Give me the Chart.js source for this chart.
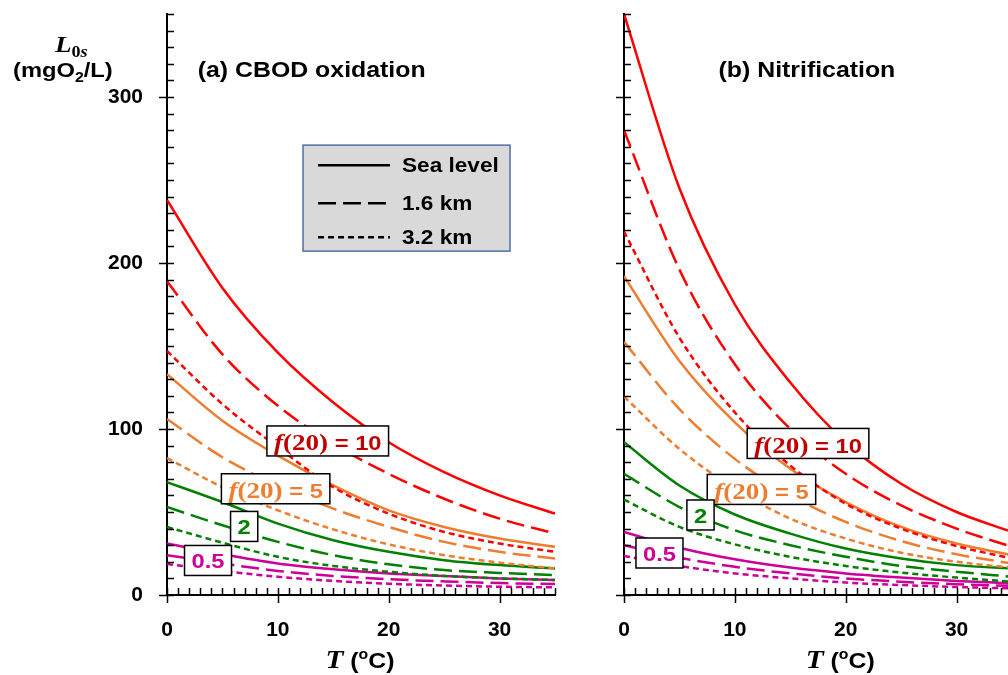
<!DOCTYPE html>
<html>
<head>
<meta charset="utf-8">
<title>Maximum load L0s versus temperature</title>
<script src="https://cdn.jsdelivr.net/npm/chart.js@4.4.1/dist/chart.umd.min.js"></script>
<style>
    html, body { margin: 0; padding: 0; background: #fff; overflow: hidden; }
    #figure { position: relative; width: 1008px; height: 675px; overflow: hidden; }
    #figure canvas { position: absolute; top: 0; }
    #cbodChart { left: 0; }
    #nitrChart { left: 560px; }
</style>
</head>
<body>
<div id="figure">
    <canvas id="cbodChart" width="560" height="675"></canvas>
    <canvas id="nitrChart" width="460" height="675"></canvas>
</div>
<script>
// temperature (deg C) and tick marks
const temps = [0, 5, 10, 15, 20, 25, 30, 35];
const tempTicks = [0, 10, 20, 30];
const loadTicks = [0, 100, 200, 300];
const tempMax = 35;
const loadMax = 350;
const tempMinorStep = 1;
const loadMinorStep = 10;

// (a) CBOD oxidation, L0s in mgO2/L : f(20) = 10, 5, 2, 0.5 at sea level, 1.6 km, 3.2 km
const cbodF10Sea = [238, 185, 146, 116, 92, 74, 60, 49];
const cbodF10Mid = [189, 145, 114, 91, 73, 58, 46, 37];
const cbodF10High = [147, 115, 89, 65, 49, 38, 31, 26];
const cbodF5Sea = [133, 105, 84, 66, 51, 41, 34, 29];
const cbodF5Mid = [106, 83, 66, 52, 41, 32, 26, 22];
const cbodF5High = [82.5, 65, 51, 39.5, 30.5, 24, 19.5, 16];
const cbodF2Sea = [68, 56, 43, 33, 26, 21, 18, 16];
const cbodF2Mid = [53, 42, 32, 24, 18.5, 15, 13.3, 12];
const cbodF2High = [41, 31.5, 23, 17.5, 14, 11.5, 10, 9];
const cbodF05Sea = [31, 24.5, 19, 15.5, 13, 11.5, 10, 9];
const cbodF05Mid = [24, 19, 14.5, 11.5, 9.5, 8.2, 7.2, 6.6];
const cbodF05High = [18.7, 14.5, 11, 8.5, 6.8, 5.7, 5, 4.6];

// (b) Nitrification
const nitrF10Sea = [350, 245, 175, 128, 92, 67, 50, 38];
const nitrF10Mid = [280, 196, 139, 100, 73, 54, 40, 29];
const nitrF10High = [219, 155, 110, 78, 55, 40, 29.5, 22];
const nitrF5Sea = [192, 141, 104, 76, 56, 41, 31, 24];
const nitrF5Mid = [152.5, 112, 82, 60, 44, 32.5, 24.5, 19];
const nitrF5High = [119.5, 88, 64, 46, 34, 25.5, 20, 16.5];
const nitrF2Sea = [92, 66, 48.5, 37, 28, 22, 18, 16];
const nitrF2Mid = [73, 53, 39, 30, 23, 17.5, 14, 11];
const nitrF2High = [57.5, 41, 30.5, 23, 17.5, 13.5, 10.5, 8];
const nitrF05Sea = [38, 28.5, 21.5, 16.5, 13, 10.5, 8.5, 7];
const nitrF05Mid = [30, 22.5, 17, 13, 10, 8, 6.5, 5.5];
const nitrF05High = [23.5, 17.5, 13, 10, 7.5, 6, 4.8, 4];

const SANS = `"Liberation Sans", Arial, Helvetica, sans-serif`;
const SERIF = `"Liberation Serif", "Times New Roman", Times, serif`;
const TEXT_STRETCH = 1.13;

const RED = `#ff0000`;
const ORANGE = `#ed7d31`;
const GREEN = `#008000`;
const MAGENTA = `#cc0099`;

const altitudes = [
    { name: `Sea level`, dash: [] },
    { name: `1.6 km`, dash: [18, 7] },
    { name: `3.2 km`, dash: [6, 4] }
];

function measureRich(ctx, parts) {
    let width = 0;
    parts.forEach(p => {
        ctx.font = p[1];
        width += ctx.measureText(p[0]).width;
    });
    return width * TEXT_STRETCH;
}

// draws runs of text with mixed fonts; part = [text, font, dy]
function drawRich(ctx, parts, x, y, align, color) {
    const width = measureRich(ctx, parts) / TEXT_STRETCH;
    ctx.save();
    ctx.translate(x, y);
    ctx.scale(TEXT_STRETCH, 1);
    ctx.fillStyle = color;
    ctx.textAlign = `left`;
    ctx.textBaseline = `alphabetic`;
    let cx = align === `center` ? -width / 2 : 0;
    parts.forEach(p => {
        ctx.font = p[1];
        ctx.fillText(p[0], cx, p[2] || 0);
        cx += ctx.measureText(p[0]).width;
    });
    ctx.restore();
}

const fLabel = n => [
    [`f`, `italic bold 24px ${SERIF}`],
    [`(20)`, `bold 24px ${SERIF}`],
    [` = ${n}`, `bold 21px ${SANS}`]
];
const numLabel = n => [[n, `bold 21px ${SANS}`]];

function drawTag(ctx, tag, cx, cy) {
    const w = measureRich(ctx, tag.parts) + 14;
    const h = 30;
    ctx.save();
    ctx.fillStyle = `#fff`;
    ctx.strokeStyle = `#000`;
    ctx.lineWidth = 1.5;
    ctx.fillRect(cx - w / 2, cy - h / 2, w, h);
    ctx.strokeRect(cx - w / 2, cy - h / 2, w, h);
    ctx.restore();
    drawRich(ctx, tag.parts, cx, cy + tag.baseline, `center`, tag.color);
}

function drawKey(ctx, left, top) {
    ctx.save();
    ctx.fillStyle = `#d9d9d9`;
    ctx.strokeStyle = `#4f6fa8`;
    ctx.lineWidth = 1.5;
    ctx.fillRect(left, top, 207, 106);
    ctx.strokeRect(left, top, 207, 106);
    const rows = [20, 58, 92];
    altitudes.forEach((alt, i) => {
        const ly = top + rows[i];
        ctx.strokeStyle = `#000`;
        ctx.lineWidth = 2.5;
        ctx.setLineDash(alt.dash);
        ctx.beginPath();
        ctx.moveTo(left + 15, ly);
        ctx.lineTo(left + 87, ly);
        ctx.stroke();
        ctx.setLineDash([]);
        drawRich(ctx, [[alt.name, `bold 20px ${SANS}`]], left + 99, ly + 7, `left`, `#000`);
    });
    ctx.restore();
}

function drawLoadTitle(ctx) {
    drawRich(ctx, [
        [`L`, `italic bold 24px ${SERIF}`],
        [`0`, `bold 16px ${SERIF}`, 5],
        [`s`, `italic bold 16px ${SERIF}`, 5]
    ], 55, 52, `left`, `#000`);
    drawRich(ctx, [
        [`(mgO`, `bold 21px ${SANS}`],
        [`2`, `bold 14px ${SANS}`, 5],
        [`/L)`, `bold 21px ${SANS}`]
    ], 13, 77, `left`, `#000`);
}

// major ticks cross the axis, minor ticks point inward
const axisTicks = {
    id: `axisTicks`,
    afterDatasetsDraw(chart) {
        const { ctx, chartArea: area, scales: { x, y } } = chart;
        ctx.save();
        ctx.strokeStyle = `#000`;
        ctx.lineWidth = 1.5;
        ctx.beginPath();
        for (let v = 0; v <= loadMax; v += loadMinorStep) {
            const py = Math.round(y.getPixelForValue(v)) + 0.5;
            const major = loadTicks.includes(v);
            ctx.moveTo(area.left - (major ? 8 : 0), py);
            ctx.lineTo(area.left + 7, py);
        }
        for (let t = 0; t <= tempMax; t += tempMinorStep) {
            const px = Math.round(x.getPixelForValue(t)) + 0.5;
            const major = tempTicks.includes(t);
            ctx.moveTo(px, area.bottom + (major ? 8 : 0));
            ctx.lineTo(px, area.bottom - 7);
        }
        ctx.stroke();
        ctx.restore();
    }
};

const decorate = panel => ({
    id: `decorate`,
    afterDraw(chart) {
        const { ctx, chartArea: area, scales: { x, y } } = chart;
        drawRich(ctx, [[panel.title, `bold 22px ${SANS}`]],
            x.getPixelForValue(panel.titleAt[0]), y.getPixelForValue(panel.titleAt[1]), `center`, `#000`);
        drawRich(ctx, [
            [`T`, `italic bold 26px ${SERIF}`],
            [` (`, `bold 22px ${SANS}`],
            [`o`, `bold 14px ${SANS}`, -9],
            [`C)`, `bold 22px ${SANS}`]
        ], x.getPixelForValue(panel.axisTitleAt), area.bottom + 73, `center`, `#000`);
        panel.tags.forEach(tag => drawTag(ctx, tag, x.getPixelForValue(tag.at[0]), y.getPixelForValue(tag.at[1])));
        if (panel.keyAt) {
            drawKey(ctx, x.getPixelForValue(panel.keyAt[0]), y.getPixelForValue(panel.keyAt[1]));
        }
        if (panel.loadTitle) {
            drawLoadTitle(ctx);
        }
    }
});

function buildDatasets(groups) {
    const sets = [];
    groups.forEach(g => {
        g.series.forEach((values, i) => {
            sets.push({
                label: `f(20) = ${g.f}, ${altitudes[i].name}`,
                data: temps.map((t, k) => ({ x: t, y: values[k] })),
                borderColor: g.color,
                borderWidth: 2.5,
                borderDash: altitudes[i].dash,
                pointRadius: 0,
                cubicInterpolationMode: `monotone`,
                fill: false
            });
        });
    });
    return sets;
}

function makeChart(canvasId, panel) {
    const tickFont = { family: SANS, size: 21, weight: `bold` };
    return new Chart(document.getElementById(canvasId), {
        type: `line`,
        data: { datasets: buildDatasets(panel.groups) },
        options: {
            responsive: false,
            animation: false,
            events: [],
            layout: { padding: { top: 14, right: panel.padRight, left: 0, bottom: 0 } },
            plugins: { legend: { display: false }, tooltip: { enabled: false } },
            scales: {
                x: {
                    type: `linear`,
                    min: 0,
                    max: tempMax,
                    afterBuildTicks: scale => { scale.ticks = tempTicks.map(v => ({ value: v })); },
                    afterFit: scale => {
                        scale.height = 80;
                        scale.paddingLeft = 0;
                        scale.paddingRight = 0;
                    },
                    grid: { display: false, drawTicks: false },
                    border: { display: true, color: `#000`, width: 2 },
                    ticks: { color: `#000`, font: tickFont, padding: 23, maxRotation: 0, autoSkip: false }
                },
                y: {
                    type: `linear`,
                    min: 0,
                    max: loadMax,
                    afterBuildTicks: scale => { scale.ticks = loadTicks.map(v => ({ value: v })); },
                    afterFit: scale => {
                        scale.width = panel.axisWidth;
                        scale.paddingTop = 0;
                        scale.paddingBottom = 0;
                    },
                    grid: { display: false, drawTicks: false },
                    border: { display: true, color: `#000`, width: 2 },
                    ticks: { display: panel.loadLabels, color: `#000`, font: tickFont, padding: 24 }
                }
            }
        },
        plugins: [axisTicks, decorate(panel)]
    });
}

makeChart(`cbodChart`, {
    title: `(a) CBOD oxidation`,
    titleAt: [13.05, 312],
    axisTitleAt: 17.4,
    axisWidth: 167,
    padRight: 5,
    loadLabels: true,
    loadTitle: true,
    keyAt: [12.27, 271],
    groups: [
        { f: 10, color: RED, series: [cbodF10Sea, cbodF10Mid, cbodF10High] },
        { f: 5, color: ORANGE, series: [cbodF5Sea, cbodF5Mid, cbodF5High] },
        { f: 2, color: GREEN, series: [cbodF2Sea, cbodF2Mid, cbodF2High] },
        { f: 0.5, color: MAGENTA, series: [cbodF05Sea, cbodF05Mid, cbodF05High] }
    ],
    tags: [
        { at: [14.5, 92.8], parts: fLabel(`10`), color: `#c00000`, baseline: 9.5 },
        { at: [9.8, 64], parts: fLabel(`5`), color: ORANGE, baseline: 9.5 },
        { at: [6.96, 41.3], parts: numLabel(`2`), color: GREEN, baseline: 8 },
        { at: [3.7, 20.8], parts: numLabel(`0.5`), color: MAGENTA, baseline: 8 }
    ]
});

makeChart(`nitrChart`, {
    title: `(b) Nitrification`,
    titleAt: [16.5, 312],
    axisTitleAt: 19.5,
    axisWidth: 64,
    padRight: 8,
    loadLabels: false,
    loadTitle: false,
    keyAt: null,
    groups: [
        { f: 10, color: RED, series: [nitrF10Sea, nitrF10Mid, nitrF10High] },
        { f: 5, color: ORANGE, series: [nitrF5Sea, nitrF5Mid, nitrF5High] },
        { f: 2, color: GREEN, series: [nitrF2Sea, nitrF2Mid, nitrF2High] },
        { f: 0.5, color: MAGENTA, series: [nitrF05Sea, nitrF05Mid, nitrF05High] }
    ],
    tags: [
        { at: [16.6, 91.3], parts: fLabel(`10`), color: `#c00000`, baseline: 9.5 },
        { at: [12.4, 63.6], parts: fLabel(`5`), color: ORANGE, baseline: 9.5 },
        { at: [6.9, 48.2], parts: numLabel(`2`), color: GREEN, baseline: 8 },
        { at: [3.2, 25.3], parts: numLabel(`0.5`), color: MAGENTA, baseline: 8 }
    ]
});
</script>
</body>
</html>
